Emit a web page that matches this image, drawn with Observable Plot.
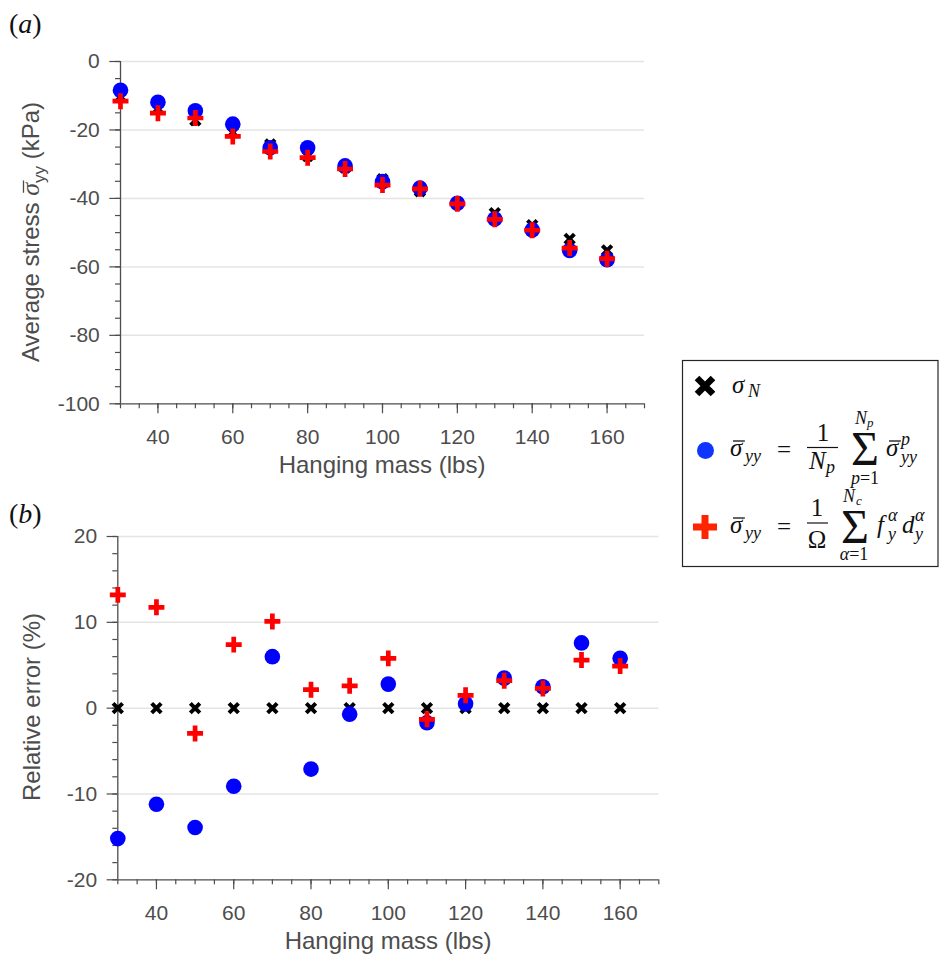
<!DOCTYPE html>
<html>
<head>
<meta charset="utf-8">
<script src="https://cdn.jsdelivr.net/npm/d3@7"></script>
<script src="https://cdn.jsdelivr.net/npm/@observablehq/plot@0.6"></script>
<style>
  html, body { margin: 0; padding: 0; background: #fff; }
  #wrap { position: relative; width: 940px; height: 958px; overflow: hidden; }
  #top, #bottom { position: absolute; left: 0; }
  #top { top: 0; }
  #bottom { top: 480px; }
  #overlay { position: absolute; left: 0; top: 0; pointer-events: none; }
</style>
</head>
<body>
<div id="wrap">
  <div id="top"></div>
  <div id="bottom"></div>
</div>
<script>
// ---- Data ----
const mass = [30, 40, 50, 60, 70, 80, 90, 100, 110, 120, 130, 140, 150, 160];

// Panel (a): average stress (kPa)
const stressNominal  = [-10.3, -13.8, -17.2, -20.7, -24.2, -27.6, -31.0, -34.4, -37.9, -41.3, -44.3, -47.8, -51.8, -55.2];
const stressParticle = [-8.4, -11.9, -14.4, -18.3, -25.2, -25.2, -30.5, -35.1, -37.0, -41.4, -46.0, -49.2, -55.2, -57.9];
const stressContact  = [-11.6, -15.1, -16.5, -21.9, -26.3, -28.1, -31.4, -36.1, -37.2, -41.6, -46.1, -49.3, -54.5, -57.6];

// Panel (b): relative error (%)
const errNominal  = [0, 0, 0, 0, 0, 0, 0, 0, 0, 0, 0, 0, 0, 0];
const errParticle = [-15.2, -11.2, -13.9, -9.1, 6.0, -7.1, -0.7, 2.8, -1.7, 0.5, 3.5, 2.5, 7.6, 5.8];
const errContact  = [13.2, 11.75, -2.95, 7.4, 10.1, 2.15, 2.6, 5.8, -1.3, 1.5, 3.2, 2.3, 5.6, 4.9];

// Tick labels
const xTickLabels = [40, 60, 80, 100, 120, 140, 160];
const yTicksTop = [0, -20, -40, -60, -80, -100];
const yTicksBottom = [20, 10, 0, -10, -20];

// ---- Styling ----
const FONT = "'Liberation Sans', Arial, Helvetica, sans-serif";
const AXIS = "#4d4d4d";
const GRID = "#e4e4e4";

function panel(cfg) {
  const rows = mass.map((m, i) => ({ mass: m, n: cfg.n[i], p: cfg.p[i], c: cfg.c[i] }));
  const xMinor = d3.range(30, 170.001, 5);
  const yMinor = d3.range(cfg.yDomain[0], cfg.yDomain[1] + 0.001, cfg.yMinorStep);
  return Plot.plot({
    width: cfg.width, height: cfg.height,
    marginLeft: cfg.ml, marginRight: cfg.mr, marginTop: cfg.mt, marginBottom: cfg.mb,
    x: { domain: [30, 170] },
    y: { domain: cfg.yDomain },
    style: { fontFamily: FONT, fontSize: "21px", color: AXIS, background: "transparent", overflow: "visible" },
    marks: [
      Plot.gridY(cfg.yTicks.filter(d => d !== cfg.yDomain[0]), { stroke: GRID, strokeOpacity: 1, strokeWidth: 1.5 }),
      Plot.axisY(yMinor, { tickSize: 5, tickFormat: () => "", label: null, stroke: AXIS, strokeWidth: 1.2 }),
      Plot.axisY(cfg.yTicks, { tickSize: 10.7, tickPadding: 10, fontSize: 21, label: null, stroke: AXIS, fill: AXIS, strokeWidth: 1.2, tickFormat: d => String(d) }),
      Plot.axisX(xMinor, { tickSize: 5, tickFormat: () => "", label: null, stroke: AXIS, strokeWidth: 1.2 }),
      Plot.axisX(xTickLabels, { tickSize: 10, tickPadding: 15, fontSize: 21, label: null, stroke: AXIS, fill: AXIS, strokeWidth: 1.2, tickFormat: d => String(d) }),
      Plot.ruleX([30], { stroke: AXIS, strokeWidth: 1.3 }),
      Plot.ruleY([cfg.yDomain[0]], { stroke: AXIS, strokeWidth: 1.3 }),
      Plot.dot(rows, { x: "mass", y: "n", symbol: "times", r: 4.4, stroke: "#000", fill: "none", strokeWidth: 4 }),
      Plot.dot(rows, { x: "mass", y: "p", symbol: "circle", r: 7.8, fill: "#0000ff", stroke: "none" }),
      Plot.dot(rows, { x: "mass", y: "c", symbol: "plus", r: 5.2, stroke: "#ff0000", fill: "none", strokeWidth: 4.7 })
    ]
  });
}

const topChart = panel({
  width: 660, height: 480, ml: 120, mr: 16, mt: 61, mb: 76.7,
  yDomain: [-100, 0], yTicks: yTicksTop, yMinorStep: 5,
  n: stressNominal, p: stressParticle, c: stressContact
});
document.getElementById("top").appendChild(topChart);

const bottomChart = panel({
  width: 680, height: 478, ml: 117.3, mr: 21.7, mt: 56, mb: 78.7,
  yDomain: [-20, 20], yTicks: yTicksBottom, yMinorStep: 2,
  n: errNominal, p: errParticle, c: errContact
});
document.getElementById("bottom").appendChild(bottomChart);

// ---- Titles, panel labels and legend (text overlay) ----
const SERIF = "'Liberation Serif', 'Times New Roman', serif";
const overlay = `
<svg id="overlay" width="940" height="958" xmlns="http://www.w3.org/2000/svg" style="font-family:${FONT}">
  <text x="9" y="33" font-family="${SERIF}" font-size="28" fill="#111">(<tspan font-style="italic">a</tspan>)</text>
  <text x="9" y="523" font-family="${SERIF}" font-size="28" fill="#111">(<tspan font-style="italic">b</tspan>)</text>

  <text x="382" y="473" text-anchor="middle" font-size="24" fill="${AXIS}">Hanging mass (lbs)</text>
  <text x="388" y="949" text-anchor="middle" font-size="24" fill="${AXIS}">Hanging mass (lbs)</text>

  <g transform="translate(39,232) rotate(-90)">
    <text class="bar" data-idx="15" data-lift="15.5" text-anchor="middle" font-size="24" fill="${AXIS}">Average stress <tspan font-family="${SERIF}" font-style="italic" font-size="26">σ</tspan><tspan font-size="17" dy="6">yy</tspan><tspan dy="-6"> (kPa)</tspan></text>
  </g>
  <text transform="translate(40,707) rotate(-90)" text-anchor="middle" font-size="24" fill="${AXIS}">Relative error (%)</text>

  <g id="legend" font-family="${SERIF}" fill="#111">
    <rect x="682.5" y="360.5" width="255.5" height="206" fill="#fff" stroke="#262626" stroke-width="1.2"/>
    <path d="M697,378 L713,394 M713,378 L697,394" stroke="#000" stroke-width="6.5" fill="none"/>
    <circle cx="705.5" cy="450.5" r="8.5" fill="#0f35ff"/>
    <path d="M693,527 H717 M705,515 V539" stroke="#ff2400" stroke-width="7" fill="none"/>

    <text x="732" y="393" font-style="italic" font-size="25">σ</text>
    <text x="748" y="397" font-style="italic" font-size="18">N</text>

    <text class="bar" data-idx="0" data-lift="15" x="730" y="456" font-style="italic" font-size="25">σ</text>
    <text x="745" y="462" font-style="italic" font-size="18">yy</text>
    <text x="777" y="458" font-size="25">=</text>
    <text x="823" y="441" font-size="25" text-anchor="middle">1</text>
    <line x1="807" x2="838" y1="447.5" y2="447.5" stroke="#111" stroke-width="1.2"/>
    <text x="809" y="469" font-style="italic" font-size="25">N</text>
    <text x="826" y="473" font-style="italic" font-size="18">p</text>
    <text x="865" y="465" font-size="48" text-anchor="middle">Σ</text>
    <text x="855" y="424" font-style="italic" font-size="18">N</text>
    <text x="867" y="427" font-style="italic" font-size="13">p</text>
    <text x="865" y="484" font-size="18" text-anchor="middle"><tspan font-style="italic">p</tspan>=1</text>
    <text class="bar" data-idx="0" data-lift="15" x="886" y="456" font-style="italic" font-size="25">σ</text>
    <text x="901" y="445" font-style="italic" font-size="18">p</text>
    <text x="901" y="463" font-style="italic" font-size="18">yy</text>

    <text class="bar" data-idx="0" data-lift="15" x="730" y="533" font-style="italic" font-size="25">σ</text>
    <text x="745" y="539" font-style="italic" font-size="18">yy</text>
    <text x="777" y="535" font-size="25">=</text>
    <text x="817" y="516" font-size="25" text-anchor="middle">1</text>
    <line x1="807" x2="828" y1="523" y2="523" stroke="#111" stroke-width="1.2"/>
    <text x="817" y="548" font-size="25" text-anchor="middle">Ω</text>
    <text x="855" y="543" font-size="48" text-anchor="middle">Σ</text>
    <text x="843" y="502" font-style="italic" font-size="18">N</text>
    <text x="856" y="505" font-style="italic" font-size="13">c</text>
    <text x="854" y="560" font-size="18" text-anchor="middle"><tspan font-style="italic">α</tspan>=1</text>
    <text x="877" y="533" font-style="italic" font-size="25">f</text>
    <text x="888" y="521" font-style="italic" font-size="18">α</text>
    <text x="888" y="540" font-style="italic" font-size="18">y</text>
    <text x="902" y="533" font-style="italic" font-size="25">d</text>
    <text x="915" y="521" font-style="italic" font-size="18">α</text>
    <text x="915" y="540" font-style="italic" font-size="18">y</text>
  </g>
</svg>`;
document.getElementById("wrap").insertAdjacentHTML("beforeend", overlay);

// Draw the bar over sigma (σ̄) by measuring the glyph position.
document.querySelectorAll("#overlay text.bar").forEach(t => {
  const idx = +t.dataset.idx;
  const lift = +t.dataset.lift;
  const s = t.getStartPositionOfChar(idx);
  const e = t.getEndPositionOfChar(idx);
  const line = document.createElementNS("http://www.w3.org/2000/svg", "line");
  line.setAttribute("x1", s.x + 3);
  line.setAttribute("x2", e.x + 2.5);
  line.setAttribute("y1", s.y - lift);
  line.setAttribute("y2", s.y - lift);
  line.setAttribute("stroke", t.getAttribute("fill") || "#111");
  line.setAttribute("stroke-width", 1.3);
  t.parentNode.appendChild(line);
});
</script>
</body>
</html>
